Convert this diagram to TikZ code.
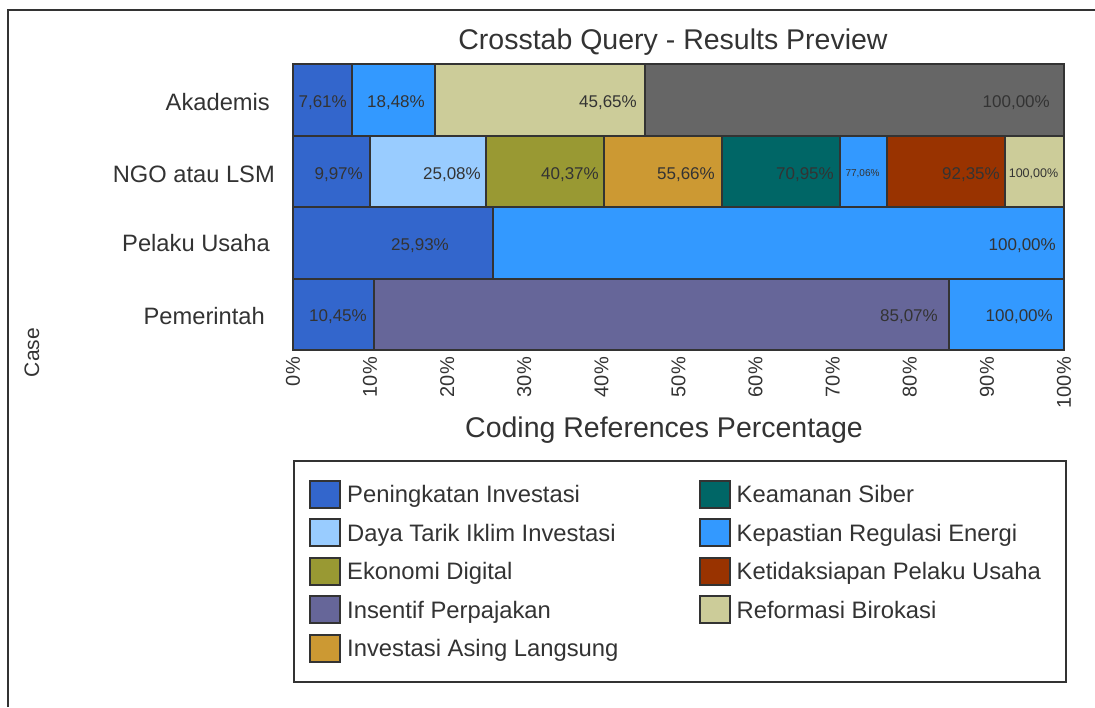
\documentclass[tikz,border=0pt]{standalone}
\usepackage{fontspec}
\setmainfont{Liberation Sans}
\usetikzlibrary{positioning}

\definecolor{ink}{HTML}{333333}
\definecolor{peningkatan}{HTML}{3366CC}
\definecolor{dayatarik}{HTML}{99CCFF}
\definecolor{ekonomi}{HTML}{999933}
\definecolor{insentif}{HTML}{666699}
\definecolor{asing}{HTML}{CC9933}
\definecolor{siber}{HTML}{006666}
\definecolor{kepastian}{HTML}{3399FF}
\definecolor{ketidaksiapan}{HTML}{993300}
\definecolor{reformasi}{HTML}{CCCC99}
\definecolor{lain}{HTML}{666666}

\begin{document}
\begin{tikzpicture}[x=1pt, y=-1pt, node distance=9.5pt,
    bar/.style={draw=ink, line width=2pt},
    pct/.style={font=\fontsize{17}{20}\selectfont, text=ink, inner sep=0pt, anchor=base east},
    small/.style={font=\fontsize{#1}{14}\selectfont, text=ink, inner sep=0pt, anchor=base},
    ticklbl/.style={font=\fontsize{20}{24}\selectfont, text=ink, inner sep=0pt, rotate=90, anchor=east},
    rowlbl/.style={font=\fontsize{23.7}{28}\selectfont, text=ink, inner sep=0pt, anchor=base east},
    swatch/.style={draw=ink, line width=2pt, minimum width=30pt, minimum height=27pt, inner sep=0pt},
    legtext/.style={font=\fontsize{23.8}{28}\selectfont, text=ink, inner sep=0pt, text height=17pt, text depth=0pt, right=6pt of #1}]
  \useasboundingbox (0,0) rectangle (1095,707);
  \draw[ink, line width=2.5pt] (8,707) -- (8,10) -- (1095,10);

  \node[font=\fontsize{28.5}{34}\selectfont, text=ink, anchor=base] (title) at (673,49) {Crosstab Query - Results Preview};

  % bars, x in percent
  \begin{scope}[shift={(293,64)}, x=7.71pt, y=-71.5pt]
    \filldraw[bar, fill=peningkatan] (0,0) rectangle (7.61,1);
    \filldraw[bar, fill=kepastian] (7.61,0) rectangle (18.48,1);
    \filldraw[bar, fill=reformasi] (18.48,0) rectangle (45.65,1);
    \filldraw[bar, fill=lain] (45.65,0) rectangle (100,1);

    \filldraw[bar, fill=peningkatan] (0,1) rectangle (9.97,2);
    \filldraw[bar, fill=dayatarik] (9.97,1) rectangle (25.08,2);
    \filldraw[bar, fill=ekonomi] (25.08,1) rectangle (40.37,2);
    \filldraw[bar, fill=asing] (40.37,1) rectangle (55.66,2);
    \filldraw[bar, fill=siber] (55.66,1) rectangle (70.95,2);
    \filldraw[bar, fill=kepastian] (70.95,1) rectangle (77.06,2);
    \filldraw[bar, fill=ketidaksiapan] (77.06,1) rectangle (92.35,2);
    \filldraw[bar, fill=reformasi] (92.35,1) rectangle (100,2);

    \filldraw[bar, fill=peningkatan] (0,2) rectangle (25.93,3);
    \filldraw[bar, fill=kepastian] (25.93,2) rectangle (100,3);

    \filldraw[bar, fill=peningkatan] (0,3) rectangle (10.45,4);
    \filldraw[bar, fill=insentif] (10.45,3) rectangle (85.07,4);
    \filldraw[bar, fill=kepastian] (85.07,3) rectangle (100,4);
  \end{scope}

  \node[pct] (a1) at (347,107) {7,61\%};
  \node[pct] (a2) at (425,107) {18,48\%};
  \node[pct] (a3) at (637,107) {45,65\%};
  \node[pct] (a4) at (1050,107) {100,00\%};

  \node[pct] (n1) at (363,179) {9,97\%};
  \node[pct] (n2) at (481,179) {25,08\%};
  \node[pct] (n3) at (599,179) {40,37\%};
  \node[pct] (n4) at (715,179) {55,66\%};
  \node[pct] (n5) at (834,179) {70,95\%};
  \node[small=10] (n6) at (862.5,176.6) {77,06\%};
  \node[pct] (n7) at (1000,179) {92,35\%};
  \node[small=12.5] (n8) at (1033.5,177.5) {100,00\%};

  \node[pct, anchor=base] (p1) at (420,250) {25,93\%};
  \node[pct] (p2) at (1056,250) {100,00\%};

  \node[pct] (g1) at (367,321) {10,45\%};
  \node[pct] (g2) at (938,321) {85,07\%};
  \node[pct] (g3) at (1053,321) {100,00\%};

  \node[rowlbl] (akademis) at (270,110) {Akademis};
  \node[rowlbl] (ngo) at (275,182) {NGO atau LSM};
  \node[rowlbl] (pelaku) at (270,251) {Pelaku Usaha};
  \node[rowlbl] (pemerintah) at (265,324) {Pemerintah};

  \foreach \v [count=\i from 0] in {0,10,...,100}
    \node[ticklbl] (t\i) at (293+7.71*\v,357) {\v\%};

  \node[font=\fontsize{28.5}{34}\selectfont, text=ink, anchor=base] (xlabel) at (664,437) {Coding References Percentage};
  \node[font=\fontsize{21}{25}\selectfont, text=ink, rotate=90, anchor=base, inner sep=0pt] (case) at (39,352.5) {Case};

  % legend
  \draw[ink, line width=2pt] (294,461) rectangle (1066,682);
  \node[swatch, fill=peningkatan] (s1) at (325,494) {};
  \node[swatch, fill=dayatarik, below=of s1] (s2) {};
  \node[swatch, fill=ekonomi, below=of s2] (s3) {};
  \node[swatch, fill=insentif, below=of s3] (s4) {};
  \node[swatch, fill=asing, below=of s4] (s5) {};
  \node[swatch, fill=siber] (s6) at (714.5,494) {};
  \node[swatch, fill=kepastian, below=of s6] (s7) {};
  \node[swatch, fill=ketidaksiapan, below=of s7] (s8) {};
  \node[swatch, fill=reformasi, below=of s8] (s9) {};

  \node[legtext=s1] (l1) {Peningkatan Investasi};
  \node[legtext=s2] (l2) {Daya Tarik Iklim Investasi};
  \node[legtext=s3] (l3) {Ekonomi Digital};
  \node[legtext=s4] (l4) {Insentif Perpajakan};
  \node[legtext=s5] (l5) {Investasi Asing Langsung};
  \node[legtext=s6] (l6) {Keamanan Siber};
  \node[legtext=s7] (l7) {Kepastian Regulasi Energi};
  \node[legtext=s8] (l8) {Ketidaksiapan Pelaku Usaha};
  \node[legtext=s9] (l9) {Reformasi Birokasi};
\end{tikzpicture}
\end{document}
